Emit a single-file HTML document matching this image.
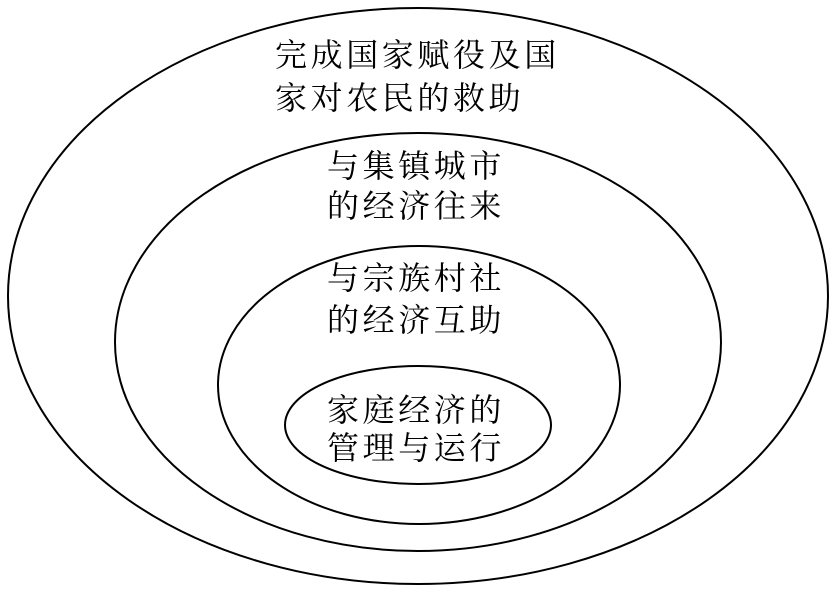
<!DOCTYPE html>
<html><head><meta charset="utf-8"><style>
html,body{margin:0;padding:0;background:#fff;width:836px;height:597px;overflow:hidden}
text{font-family:"Noto Serif CJK SC","Noto Serif CJK JP","Liberation Serif",serif;font-size:32px;letter-spacing:3.6px;fill:#000}
</style></head><body>
<svg width="836" height="597" xmlns="http://www.w3.org/2000/svg">
<g fill="none" stroke="#000" stroke-width="2">
<ellipse cx="418" cy="296" rx="410" ry="288"/>
<ellipse cx="418" cy="342" rx="303" ry="209"/>
<ellipse cx="419" cy="385" rx="201" ry="139"/>
<ellipse cx="418" cy="425" rx="133" ry="59"/>
</g>
<text x="275" y="66">完成国家赋役及国</text>
<text x="275" y="109">家对农民的救助</text>
<text x="327" y="177">与集镇城市</text>
<text x="327" y="217">的经济往来</text>
<text x="327" y="289">与宗族村社</text>
<text x="327" y="331">的经济互助</text>
<text x="327" y="421">家庭经济的</text>
<text x="327" y="459">管理与运行</text>
</svg>
</body></html>
